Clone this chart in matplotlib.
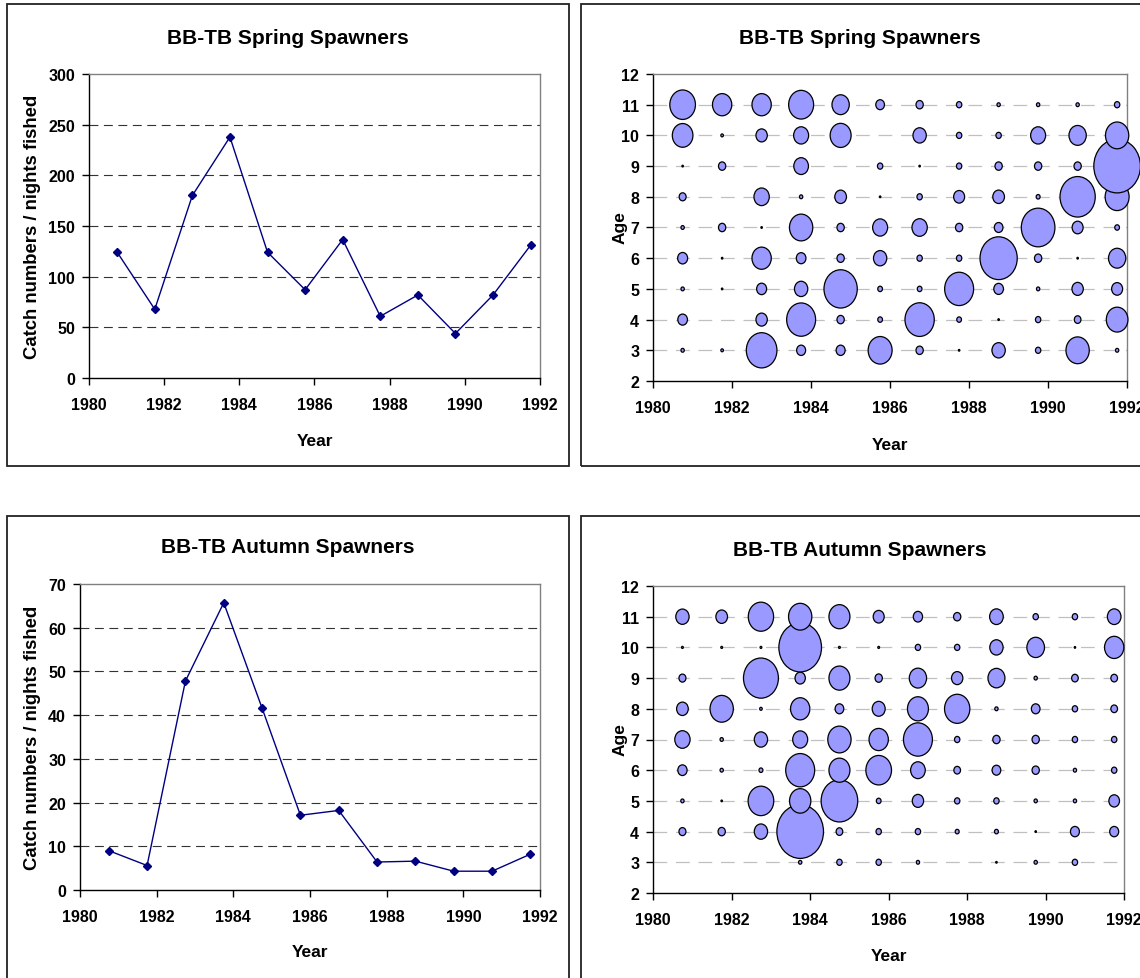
import numpy as np
import matplotlib
matplotlib.use("Agg")
import matplotlib.pyplot as plt
from matplotlib.path import Path
from matplotlib.transforms import Affine2D
from matplotlib.patches import Rectangle

plt.rcParams['font.family'] = ['Liberation Sans', 'DejaVu Sans']
plt.rcParams['font.weight'] = 'bold'

# ---- data ----
years = [1980.75, 1981.75, 1982.75, 1983.75, 1984.75, 1985.75,
         1986.75, 1987.75, 1988.75, 1989.75, 1990.75, 1991.75]
ages = [3, 4, 5, 6, 7, 8, 9, 10, 11]

spring_cpue = [124.1, 67.8, 180.1, 237.8, 124.1, 87.1, 136.6, 60.9, 81.9, 43.9, 81.9, 131.0]
autumn_cpue = [9.0, 5.6, 47.8, 65.7, 41.6, 17.1, 18.2, 6.4, 6.6, 4.3, 4.3, 8.2]

# relative catch at age (bubble area), rows = ages 3..11
spring_caa = [
    [1.0, 0.6, 84.6, 7.3, 7.3, 51.8, 4.8, 0.2, 16.0, 2.6, 49.0, 1.0],   # 3
    [8.4, 0.0, 11.6, 75.7, 4.8, 2.0, 77.4, 2.0, 0.2, 2.6, 4.0, 42.3],   # 4
    [1.0, 0.2, 9.0, 16.0, 100.0, 2.0, 2.0, 75.7, 8.4, 1.0, 11.6, 10.9], # 5
    [9.0, 0.2, 33.6, 8.4, 4.8, 16.0, 2.6, 2.6, 125.0, 4.8, 0.2, 27.0],  # 6
    [1.0, 4.8, 0.2, 49.0, 4.8, 20.3, 21.2, 4.8, 6.8, 102.0, 10.9, 2.0], # 7
    [4.4, 0.0, 21.2, 1.0, 12.3, 0.2, 2.6, 10.9, 12.3, 1.4, 112.0, 51.8],# 8
    [0.2, 4.8, 0.0, 19.4, 0.0, 2.6, 0.2, 2.6, 4.8, 4.8, 4.8, 196.0],    # 9
    [38.4, 0.6, 11.6, 20.3, 39.7, 0.0, 16.0, 2.6, 2.6, 20.3, 27.0, 49.0],# 10
    [59.3, 33.6, 33.6, 56.3, 27.0, 6.8, 4.8, 2.6, 1.0, 1.0, 1.0, 2.6],  # 11
]
autumn_caa = [
    [0.0, 0.0, 0.0, 1.0, 2.6, 2.6, 1.0, 0.0, 0.2, 1.0, 2.6, 0.0],       # 3
    [4.4, 4.8, 16.0, 196.0, 4.0, 2.6, 2.6, 1.4, 1.4, 0.2, 7.3, 7.3],    # 4
    [1.0, 0.2, 59.3, 41.0, 121.0, 2.0, 11.6, 2.6, 2.6, 1.0, 1.0, 10.2], # 5
    [7.8, 1.0, 1.4, 75.7, 39.7, 59.3, 19.4, 4.0, 6.8, 4.8, 1.0, 2.6],   # 6
    [21.2, 1.0, 16.0, 20.3, 49.0, 33.6, 75.7, 2.6, 4.8, 4.8, 2.6, 2.6], # 7
    [12.3, 49.0, 0.6, 33.6, 6.8, 15.2, 39.7, 57.8, 1.0, 6.8, 2.6, 4.0], # 8
    [4.4, 0.0, 110.0, 9.6, 39.7, 4.8, 27.0, 11.6, 26.0, 1.0, 4.0, 4.0], # 9
    [0.3, 0.3, 0.3, 164.0, 0.3, 0.3, 2.6, 2.6, 16.0, 28.1, 0.2, 33.6],  # 10
    [16.0, 12.3, 57.8, 49.0, 39.7, 10.9, 7.8, 4.8, 16.8, 2.6, 2.6, 16.8],# 11
]

W, H = 1140, 979
fig = plt.figure(figsize=(W / 100, H / 100), dpi=100)


def box(l, t, r, b):
    # pixel box (top-left origin) -> figure fraction rect
    return [l / W, 1 - b / H, (r - l) / W, (b - t) / H]


def ftext(x, y, s, **kw):
    fig.text(x / W, 1 - y / H, s, ha='center', va='center', fontweight='bold', **kw)


# panel frames
for l, t, r, b in [(7, 5, 569, 467), (581, 5, 1150, 467), (7, 517, 569, 990), (581, 517, 1150, 990)]:
    fig.patches.append(Rectangle((l / W, 1 - b / H), (r - l) / W, (b - t) / H,
                                 transform=fig.transFigure, fill=False,
                                 edgecolor='#222222', linewidth=1.3))


def style_axes(ax):
    for side in ['top', 'right']:
        ax.spines[side].set_color('#808080')
    for side in ['left', 'bottom']:
        ax.spines[side].set_color('black')
    for sp in ax.spines.values():
        sp.set_linewidth(1.0)
    ax.tick_params(direction='out', length=5, width=1, labelsize=11.5)
    ax.tick_params(axis='x', pad=9)
    ax.tick_params(axis='y', pad=5)
    for lab in ax.get_xticklabels() + ax.get_yticklabels():
        lab.set_fontweight('bold')


def line_panel(rect, vals, ymax, ystep, title, title_y, ylab_y):
    ax = fig.add_axes(rect)
    ax.set_xlim(1980, 1992)
    ax.set_ylim(0, ymax)
    ax.set_xticks(np.arange(1980, 1993, 2))
    ax.set_yticks(np.arange(0, ymax + 1, ystep))
    for g in np.arange(ystep, ymax, ystep):
        ax.axhline(g, color='#333333', lw=0.8, linestyle=(0, (8, 5)), zorder=1)
    ax.plot(years, vals, color='#000080', lw=1.0, marker='D', ms=4,
            markerfacecolor='#000080', markeredgecolor='#000080', zorder=3)
    style_axes(ax)
    ftext(288, title_y, title, fontsize=15)
    ftext(33, ylab_y, 'Catch numbers / nights fished', fontsize=13.3, rotation=90)
    return ax


# elliptical bubble marker (picture is slightly stretched vertically)
ell = Path.unit_circle().transformed(Affine2D().scale(1 / 1.15, 1.0))


def bubble_panel(rect, caa, title, title_y, age_y):
    ax = fig.add_axes(rect)
    ax.set_xlim(1980, 1992)
    ax.set_ylim(2, 12)
    ax.set_xticks(np.arange(1980, 1993, 2))
    ax.set_yticks(np.arange(2, 13, 1))
    for a in ages:
        ax.axhline(a, color='#c0c0c0', lw=0.9, linestyle=(0, (11, 7)), zorder=1)
    for i, a in enumerate(ages):
        v = np.array(caa[i])
        keep = v > 0
        ax.scatter(np.array(years)[keep], np.full(keep.sum(), a), s=v[keep] * 7.6,
                   marker=ell, facecolor='#9999ff', edgecolor='black',
                   linewidths=0.9, zorder=2 + i, clip_on=False)
    style_axes(ax)
    ftext(860, title_y, title, fontsize=15)
    ftext(620, age_y, 'Age', fontsize=12.5, rotation=90)
    return ax


line_panel(box(89, 75, 540, 379), spring_cpue, 300, 50, 'BB-TB Spring Spawners', 38, 227)
ftext(315, 441, 'Year', fontsize=12.5)

bubble_panel(box(653, 75, 1127, 382), spring_caa, 'BB-TB Spring Spawners', 38, 228)
ftext(890, 445, 'Year', fontsize=12.5)

line_panel(box(80, 585, 540, 891), autumn_cpue, 70, 10, 'BB-TB Autumn Spawners', 548, 738)
ftext(310, 953, 'Year', fontsize=12.5)

bubble_panel(box(653, 587, 1124, 894), autumn_caa, 'BB-TB Autumn Spawners', 550, 740)
ftext(889, 957, 'Year', fontsize=12.5)

fig.savefig('out.png', dpi=100, facecolor='white')
